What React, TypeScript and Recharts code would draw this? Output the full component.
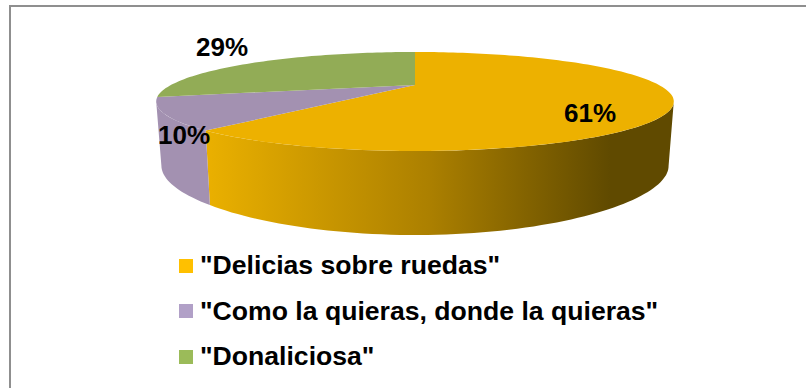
import { Legend, Pie, PieChart } from 'recharts'

const NAMES = ['"Delicias sobre ruedas"', '"Como la quieras, donde la quieras"', '"Donaliciosa"']
const VALUES = [61, 10, 29]
const LEGEND_COLORS = ['#FFC000', '#B1A0C7', '#9BBB59']
const TOP_COLORS = ['#EDB100', '#A391B1', '#92AC56']
const LABEL_SPOTS = [[590, 113], [184, 135], [222, 47]]

const data = NAMES.map((name, i) => ({ name, value: VALUES[i], fill: LEGEND_COLORS[i] }))

const FONT = '"Liberation Sans", Arial, sans-serif'

// Perspective of the two discs: horizontal/vertical scale, depth factors and vertical offset from the apex
const TOP_DISC = { sx: 1, b: 44, kx: 1 / 3, ky: 1 / 3, dy: 0 }
const BOTTOM_DISC = { sx: 0.98, b: 54, kx: 1 / 3, ky: 0.4, dy: 60 }

type Disc = typeof TOP_DISC

function project(disc: Disc, cx: number, cy: number, r: number, deg: number) {
    const t = (deg * Math.PI) / 180
    const u = Math.sin(t)
    const v = Math.cos(t)
    return [cx + (r * disc.sx * u) / (1 + disc.kx * v), cy + disc.dy - (disc.b * v) / (1 + disc.ky * v)]
}

function arc(disc: Disc, cx: number, cy: number, r: number, from: number, to: number) {
    const pts: number[][] = []
    const steps = Math.max(2, Math.ceil(Math.abs(to - from) / 1.5))
    for (let i = 0; i <= steps; i++) {
        pts.push(project(disc, cx, cy, r, from + ((to - from) * i) / steps))
    }
    return pts
}

const toPath = (pts: number[][]) => pts.map((p, i) => `${i ? 'L' : 'M'}${p[0].toFixed(1)},${p[1].toFixed(1)}`).join(' ')

// Angles where the rim turns away from the viewer, measured clockwise from the top
const RIM_FROM = 109.5
const RIM_TO = 250.5

function Slice(props: any) {
    const { cx, cy, outerRadius, startAngle, endAngle, index } = props
    // recharts angles run counter-clockwise from 3 o'clock
    const from = 90 - startAngle
    const to = 90 - endAngle
    const wallFrom = Math.max(from, RIM_FROM)
    const wallTo = Math.min(to, RIM_TO)
    const gradId = `wall-${index}`
    const hasWall = wallTo > wallFrom
    const wall = hasWall
        ? toPath([
              ...arc(TOP_DISC, cx, cy, outerRadius, wallFrom, wallTo),
              ...arc(BOTTOM_DISC, cx, cy, outerRadius, wallTo, wallFrom),
          ]) + ' Z'
        : ''
    const top = toPath([[cx, cy], ...arc(TOP_DISC, cx, cy, outerRadius, from, to)]) + ' Z'
    return (
        <g>
            {index === 0 && (
                <defs>
                    <linearGradient id={gradId} gradientUnits="userSpaceOnUse" x1={cx - 208} y1={0} x2={cx + 195} y2={0}>
                        <stop offset="0" stopColor="#EAB000" />
                        <stop offset="0.55" stopColor="#AC8000" />
                        <stop offset="1" stopColor="#604A00" />
                    </linearGradient>
                </defs>
            )}
            {hasWall && <path d={wall} fill={index === 0 ? `url(#${gradId})` : TOP_COLORS[index]} />}
            <path d={top} fill={TOP_COLORS[index]} />
        </g>
    )
}

function SliceLabel(props: any) {
    const { index, value } = props
    const [x, y] = LABEL_SPOTS[index]
    return (
        <text x={x} y={y} textAnchor="middle" dominantBaseline="central" fontFamily={FONT} fontSize={26} fontWeight={700} fill="#000">
            {value}%
        </text>
    )
}

function LegendRows({ payload }: any) {
    return (
        <div>
            {(payload ?? []).map((item: any) => (
                <div key={item.value} style={{ display: 'flex', alignItems: 'center', height: 45.5 }}>
                    <span style={{ width: 14, height: 14, background: item.color, marginRight: 7, flex: 'none' }} />
                    <span style={{ fontFamily: FONT, fontSize: 26.6, fontWeight: 700, color: '#000', whiteSpace: 'nowrap' }}>
                        {item.value}
                    </span>
                </div>
            ))}
        </div>
    )
}

export default function App() {
    return (
        <div style={{ position: 'absolute', left: 0, top: 0, width: 806, height: 388, background: '#fff', overflow: 'hidden' }}>
            {/* Chart area frame: only the top and left edges are visible */}
            <div
                style={{
                    position: 'absolute',
                    left: 9,
                    top: 5,
                    right: 0,
                    bottom: 0,
                    borderLeft: '2px solid #8f8f8f',
                    borderTop: '2px solid #8f8f8f',
                }}
            />
            <PieChart width={806} height={388} margin={{ top: 0, right: 0, bottom: 0, left: 0 }} style={{ position: 'absolute', left: 0, top: 0 }}>
                <Pie
                    data={data}
                    dataKey="value"
                    nameKey="name"
                    cx={415}
                    cy={85}
                    innerRadius={0}
                    outerRadius={244}
                    startAngle={90}
                    endAngle={-270}
                    stroke="none"
                    shape={Slice}
                    label={SliceLabel}
                    labelLine={false}
                    isAnimationActive={false}
                />
                <Legend
                    content={LegendRows}
                    itemSorter={null}
                    wrapperStyle={{ position: 'absolute', left: 179, top: 243, width: 600, bottom: 'auto' }}
                />
            </PieChart>
        </div>
    )
}
